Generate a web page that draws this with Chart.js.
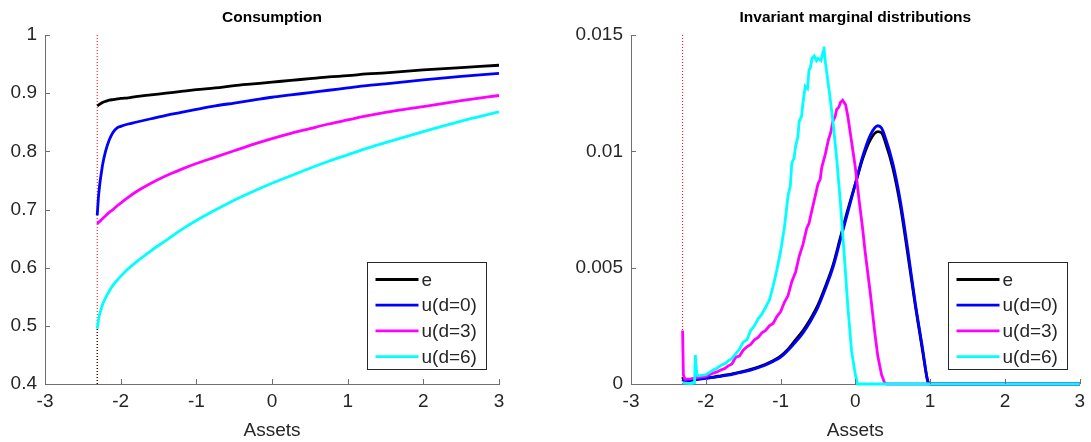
<!DOCTYPE html>
<html>
<head>
<meta charset="utf-8">
<script src="https://cdn.jsdelivr.net/npm/chart.js@4.4.0/dist/chart.umd.min.js"></script>
<style>
  html, body { margin: 0; padding: 0; background: #ffffff; width: 1091px; height: 442px; overflow: hidden; }
  #c1 { position: absolute; left: 0; top: 0; }
  #c2 { position: absolute; left: 545px; top: 0; }
</style>
</head>
<body>
<canvas id="c1" width="545" height="442"></canvas>
<canvas id="c2" width="546" height="442"></canvas>
<script>
// ---------------- data ----------------
const seriesLabels = ['e', 'u(d=0)', 'u(d=3)', 'u(d=6)'];
const borrowLimit = [-2.31];

// Consumption (left panel)
const consAssets = [-2.31, -2.29, -2.24, -2.2, -2.15, -2.1, -2.05, -2.0, -1.9, -1.8, -1.6, -1.4, -1.2, -1.0, -0.75, -0.5, -0.25, 0, 0.25, 0.5, 0.75, 1, 1.25, 1.5, 2, 2.5, 3];
const consE  = [0.878, 0.880, 0.884, 0.886, 0.888, 0.889, 0.890, 0.891, 0.892, 0.894, 0.897, 0.900, 0.903, 0.906, 0.909, 0.913, 0.916, 0.919, 0.922, 0.925, 0.928, 0.930, 0.933, 0.935, 0.940, 0.944, 0.948];
const consU0 = [0.690, 0.727, 0.776, 0.800, 0.820, 0.833, 0.840, 0.843, 0.847, 0.850, 0.856, 0.862, 0.867, 0.872, 0.878, 0.883, 0.888, 0.893, 0.897, 0.901, 0.905, 0.909, 0.913, 0.916, 0.923, 0.929, 0.934];
const consU3 = [0.675, 0.678, 0.684, 0.689, 0.695, 0.700, 0.706, 0.711, 0.721, 0.730, 0.745, 0.758, 0.769, 0.779, 0.790, 0.801, 0.812, 0.822, 0.831, 0.839, 0.847, 0.854, 0.861, 0.867, 0.877, 0.887, 0.896];
const consU6 = [0.495, 0.513, 0.536, 0.548, 0.560, 0.570, 0.578, 0.585, 0.598, 0.609, 0.629, 0.647, 0.665, 0.681, 0.699, 0.716, 0.731, 0.745, 0.758, 0.771, 0.783, 0.794, 0.805, 0.815, 0.834, 0.852, 0.868];
const consLimitSpan = [0.4, 1];
const consMinSpan = [0.4, 0.495];

// Invariant marginal distributions (right panel)
const distAssetsE = [-2.31, -2.29, -2.2, -2.1, -2.0, -1.9, -1.8, -1.7, -1.6, -1.5, -1.4, -1.3, -1.2, -1.1, -1.0, -0.9, -0.8, -0.7, -0.6, -0.5, -0.4, -0.3, -0.2, -0.1, 0, 0.1, 0.2, 0.3, 0.35, 0.4, 0.5, 0.6, 0.7, 0.8, 0.9, 0.97, 1.0, 3];
const distE  = [0.0003, 0.00015, 0.00018, 0.00022, 0.00026, 0.0003, 0.00035, 0.0004, 0.00047, 0.00054, 0.00063, 0.00073, 0.00085, 0.001, 0.0012, 0.0015, 0.0019, 0.0023, 0.0028, 0.0034, 0.0042, 0.0051, 0.0063, 0.0075, 0.0086, 0.0097, 0.0105, 0.01085, 0.0108, 0.0104, 0.0093, 0.0077, 0.0056, 0.0034, 0.0014, 0.0001, 0, 0];
const distU0 = [0.0002, 0.00012, 0.00016, 0.0002, 0.00024, 0.00028, 0.00033, 0.00038, 0.00045, 0.00052, 0.0006, 0.0007, 0.00082, 0.00097, 0.00115, 0.00145, 0.0018, 0.0022, 0.0027, 0.0033, 0.0041, 0.005, 0.0062, 0.0074, 0.0086, 0.0098, 0.0107, 0.0111, 0.011, 0.0106, 0.0095, 0.0079, 0.0058, 0.0035, 0.0015, 0.0001, 0, 0];

const distAssetsU3 = [-2.31, -2.3, -2.28, -2.2, -2.1, -2.0, -1.95, -1.9, -1.85, -1.8, -1.75, -1.7, -1.65, -1.6, -1.55, -1.5, -1.45, -1.4, -1.35, -1.3, -1.25, -1.2, -1.15, -1.1, -1.05, -1.0, -0.95, -0.9, -0.85, -0.8, -0.75, -0.7, -0.65, -0.62, -0.6, -0.55, -0.5, -0.47, -0.45, -0.4, -0.36, -0.33, -0.3, -0.27, -0.25, -0.22, -0.2, -0.17, -0.13, -0.1, -0.05, 0, 0.05, 0.1, 0.13, 0.2, 0.26, 0.3, 0.35, 0.39, 0.42, 3];
const distU3 = [0.0023, 0.0004, 0.0002, 0.00022, 0.00028, 0.00033, 0.0004, 0.00047, 0.00052, 0.0006, 0.00066, 0.00078, 0.00086, 0.00115, 0.0012, 0.00145, 0.0016, 0.0017, 0.0019, 0.002, 0.0022, 0.0023, 0.0025, 0.0026, 0.0029, 0.0031, 0.0035, 0.0038, 0.0044, 0.0048, 0.0055, 0.006, 0.0067, 0.0069, 0.0072, 0.0079, 0.0086, 0.0088, 0.0093, 0.0099, 0.0105, 0.0108, 0.0113, 0.0115, 0.0118, 0.0119, 0.0121, 0.0122, 0.012, 0.0115, 0.0104, 0.0093, 0.0079, 0.0066, 0.0057, 0.0039, 0.0022, 0.0012, 0.0004, 0.00005, 0, 0];

const distAssetsU6 = [-2.31, -2.2, -2.15, -2.14, -2.12, -2.1, -2.0, -1.95, -1.9, -1.85, -1.8, -1.73, -1.7, -1.65, -1.6, -1.55, -1.5, -1.45, -1.4, -1.35, -1.3, -1.25, -1.2, -1.15, -1.1, -1.05, -1.0, -0.95, -0.9, -0.87, -0.85, -0.82, -0.8, -0.77, -0.75, -0.72, -0.7, -0.67, -0.64, -0.62, -0.6, -0.58, -0.55, -0.52, -0.5, -0.46, -0.43, -0.42, -0.4, -0.35, -0.3, -0.25, -0.2, -0.15, -0.1, -0.05, 0, 0.03, 3];
const distU6 = [0.00005, 0.00002, 0.00005, 0.00125, 0.0004, 0.00035, 0.0004, 0.0005, 0.0006, 0.00068, 0.0008, 0.0009, 0.001, 0.0011, 0.0013, 0.0015, 0.0018, 0.0019, 0.0023, 0.0025, 0.0028, 0.003, 0.0033, 0.0036, 0.0042, 0.0049, 0.0057, 0.0067, 0.0081, 0.0085, 0.0095, 0.0097, 0.0102, 0.0106, 0.0113, 0.0115, 0.0121, 0.0128, 0.0127, 0.0135, 0.0136, 0.014, 0.0141, 0.0139, 0.014, 0.0139, 0.0143, 0.0145, 0.0138, 0.0126, 0.0113, 0.0097, 0.0078, 0.0056, 0.0033, 0.0014, 0.0004, 0, 0];
const distLimitSpan = [0, 0.015];

// ---------------- styling ----------------
const FONT = "'Liberation Sans', Arial, sans-serif";
const TEXT = '#262626';
const AXIS = '#6e6e6e';
const colors = ['#000000', '#0000ff', '#ff00ff', '#00ffff'];

function pts(xs, ys) { return xs.map((x, i) => ({ x: x, y: ys[i] })); }
function vline(x, span) { return span.map(v => ({ x: x, y: v })); }

const decor = {
  id: 'decor',
  afterDraw(chart, args, opts) {
    const ctx = chart.ctx, ca = chart.chartArea;
    const xs = chart.scales.x, ys = chart.scales.y;
    ctx.save();
    // inward tick marks
    ctx.strokeStyle = AXIS; ctx.lineWidth = 1;
    xs.ticks.forEach(t => {
      const p = Math.round(xs.getPixelForValue(t.value)) + 0.5;
      ctx.beginPath(); ctx.moveTo(p, ca.bottom); ctx.lineTo(p, ca.bottom - 5); ctx.stroke();
    });
    ys.ticks.forEach(t => {
      const p = Math.round(ys.getPixelForValue(t.value)) + 0.5;
      ctx.beginPath(); ctx.moveTo(ca.left, p); ctx.lineTo(ca.left + 5, p); ctx.stroke();
    });
    // title
    ctx.fillStyle = '#000000';
    ctx.font = 'bold 15.5px ' + FONT;
    ctx.textAlign = 'center'; ctx.textBaseline = 'middle';
    ctx.fillText(opts.title, (ca.left + ca.right) / 2, 18);
    // legend box
    const w = 119, h = 107;
    const bx = Math.round(ca.right - 13 - w) + 0.5, by = Math.round(ca.bottom - 15 - h) + 0.5;
    ctx.fillStyle = '#ffffff';
    ctx.fillRect(bx, by, w, h);
    ctx.strokeStyle = TEXT; ctx.lineWidth = 1;
    ctx.strokeRect(bx, by, w, h);
    ctx.font = '19px ' + FONT;
    ctx.textAlign = 'left';
    seriesLabels.forEach((lab, i) => {
      const yy = by + 17 + i * 25.7;
      ctx.strokeStyle = colors[i]; ctx.lineWidth = 2.8;
      ctx.beginPath(); ctx.moveTo(bx + 8, yy); ctx.lineTo(bx + 51, yy); ctx.stroke();
      ctx.fillStyle = TEXT;
      ctx.fillText(lab, bx + 54, yy + 1);
    });
    ctx.restore();
  }
};

function makeChart(id, datasets, yOpts, title, yWidth, padRight) {
  return new Chart(document.getElementById(id), {
    type: 'line',
    data: { datasets: datasets },
    plugins: [decor],
    options: {
      responsive: false,
      animation: false,
      devicePixelRatio: 1,
      layout: { padding: { left: 0, right: padRight, top: 35, bottom: 0 } },
      elements: { point: { radius: 0 } },
      plugins: {
        legend: { display: false },
        tooltip: { enabled: false },
        title: { display: false },
        decor: { title: title }
      },
      scales: {
        x: {
          type: 'linear', min: -3, max: 3,
          ticks: { stepSize: 1, color: TEXT, font: { family: FONT, size: 19 }, padding: 6, maxRotation: 0 },
          grid: { display: true, drawOnChartArea: false, drawTicks: false },
          border: { display: true, color: AXIS, width: 1 },
          title: { display: true, text: 'Assets', color: TEXT, font: { family: FONT, size: 19 }, padding: { top: 0, bottom: 0 } },
          afterFit: s => { s.height = 58; }
        },
        y: Object.assign({
          type: 'linear',
          grid: { display: true, drawOnChartArea: false, drawTicks: false },
          border: { display: true, color: AXIS, width: 1 },
          afterFit: s => { s.width = yWidth; }
        }, yOpts)
      }
    }
  });
}

function lineDs(label, data, color, order, mono) {
  return { label: label, data: data, borderColor: color, borderWidth: 2.8, fill: false, order: order,
           tension: mono ? 0.4 : 0, cubicInterpolationMode: mono ? 'monotone' : 'default', clip: false };
}
function dotDs(data, color, order) {
  return { label: '', data: data, borderColor: color, borderWidth: 1, borderDash: [1, 2], fill: false, order: order, tension: 0 };
}

makeChart('c1', [
  dotDs(vline(borrowLimit[0], consLimitSpan), '#ff0000', 10),
  dotDs(vline(borrowLimit[0], consMinSpan), '#000000', 9),
  lineDs(seriesLabels[0], pts(consAssets, consE), colors[0], 4, true),
  lineDs(seriesLabels[1], pts(consAssets, consU0), colors[1], 3, true),
  lineDs(seriesLabels[2], pts(consAssets, consU3), colors[2], 2, true),
  lineDs(seriesLabels[3], pts(consAssets, consU6), colors[3], 1, true)
], {
  min: 0.4, max: 1,
  ticks: { stepSize: 0.1, color: TEXT, font: { family: FONT, size: 19 }, padding: 8,
           callback: v => String(Math.round(v * 10) / 10) }
}, 'Consumption', 45, 46);

makeChart('c2', [
  dotDs(vline(borrowLimit[0], distLimitSpan), '#ff0000', 10),
  lineDs(seriesLabels[0], pts(distAssetsE, distE), colors[0], 4, true),
  lineDs(seriesLabels[1], pts(distAssetsE, distU0), colors[1], 3, true),
  lineDs(seriesLabels[2], pts(distAssetsU3, distU3), colors[2], 2, false),
  lineDs(seriesLabels[3], pts(distAssetsU6, distU6), colors[3], 1, false)
], {
  min: 0, max: 0.015,
  ticks: { stepSize: 0.005, color: TEXT, font: { family: FONT, size: 19 }, padding: 8,
           callback: v => String(Math.round(v * 1000) / 1000) }
}, 'Invariant marginal distributions', 86, 8);
</script>
</body>
</html>
